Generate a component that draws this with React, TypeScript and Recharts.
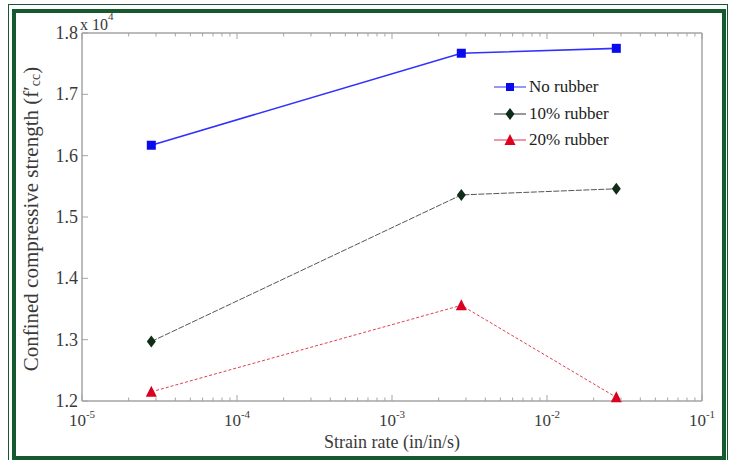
import { LineChart, Line, XAxis, YAxis } from 'recharts';

// strain rate (in/in/s) for the three tests
const strainRates = [2.8e-5, 2.8e-3, 2.8e-2];

// confined compressive strength f'cc (psi)
const noRubber = [16170, 17670, 17750];
const rubber10 = [12970, 15360, 15460];
const rubber20 = [12150, 13560, 12060];

const xMajorTicks = [1e-5, 1e-4, 1e-3, 1e-2, 1e-1];
const xMinorFactors = [2, 3, 4, 5, 6, 7, 8, 9];
const yTicks = [12000, 13000, 14000, 15000, 16000, 17000, 18000];

const FONT = '"Liberation Serif", "DejaVu Serif", serif';
const AXIS_GREY = '#a4a4a4';
const TEXT = '#3a3a3a';
const FRAME = '#15592e';

const xTicks: number[] = [];
xMajorTicks.forEach((t, i) => {
  xTicks.push(t);
  if (i < xMajorTicks.length - 1) xMinorFactors.forEach(f => xTicks.push(t * f));
});

const chartData = strainRates.map((rate, i) => ({
  rate,
  noRubber: noRubber[i],
  rubber10: rubber10[i],
  rubber20: rubber20[i],
}));

const isMajor = (v: number) => Math.abs(Math.log10(v) - Math.round(Math.log10(v))) < 1e-6;

const BottomTick = ({ x, y, payload }: any) => {
  const v = payload.value;
  const major = isMajor(v);
  return (
    <g>
      <line x1={x} y1={y} x2={x} y2={y - (major ? 6 : 3.5)} stroke={AXIS_GREY} strokeWidth={1} />
      {major && (
        <text x={x} y={y + 25} textAnchor="middle" fontFamily={FONT} fontSize={17} fill={TEXT}>
          <tspan>10</tspan>
          <tspan dy={-8} fontSize={11}>{Math.round(Math.log10(v))}</tspan>
        </text>
      )}
    </g>
  );
};

const TopTick = ({ x, y, payload }: any) => {
  const major = isMajor(payload.value);
  return <line x1={x} y1={y} x2={x} y2={y + (major ? 6 : 3.5)} stroke={AXIS_GREY} strokeWidth={1} />;
};

const LeftTick = ({ x, y, payload }: any) => (
  <g>
    <line x1={x} y1={y} x2={x + 6} y2={y} stroke={AXIS_GREY} strokeWidth={1} />
    <text x={x - 4} y={y} dy={6} textAnchor="end" fontFamily={FONT} fontSize={18} fill={TEXT}>
      {(payload.value / 10000).toFixed(1)}
    </text>
  </g>
);

const RightTick = ({ x, y }: any) => (
  <line x1={x} y1={y} x2={x - 6} y2={y} stroke={AXIS_GREY} strokeWidth={1} />
);

// markers
const Square = ({ cx, cy, size = 9 }: any) => (
  <rect x={cx - size / 2} y={cy - size / 2} width={size} height={size} fill="#0a0aee" />
);
const Diamond = ({ cx, cy }: any) => (
  <polygon points={`${cx},${cy - 6} ${cx + 4.5},${cy} ${cx},${cy + 6} ${cx - 4.5},${cy}`} fill="#0e2c16" />
);
const Triangle = ({ cx, cy }: any) => (
  <polygon points={`${cx},${cy - 6} ${cx + 5.5},${cy + 5} ${cx - 5.5},${cy + 5}`} fill="#dc0020" />
);

const legendItems = [
  { name: 'No rubber', color: '#2a2aff', Marker: Square },
  { name: '10% rubber', color: '#333333', Marker: Diamond },
  { name: '20% rubber', color: '#e03048', Marker: Triangle },
];

const LegendBox = () => (
  <div style={{ position: 'absolute', left: 494, top: 74, fontFamily: FONT, fontSize: 17, color: '#222' }}>
    {legendItems.map(item => (
      <div key={item.name} style={{ display: 'flex', alignItems: 'center', height: 26.5 }}>
        <svg width={34} height={16} style={{ marginRight: 1 }}>
          <line x1={0} y1={8} x2={32} y2={8} stroke={item.color} strokeWidth={1} />
          <item.Marker cx={16} cy={8} size={8} />
        </svg>
        <span>{item.name}</span>
      </div>
    ))}
  </div>
);

const YTitle = () => (
  <text
    x={31}
    y={219}
    transform="rotate(-90 31 219)"
    textAnchor="middle"
    dominantBaseline="central"
    fontFamily={FONT}
    fontSize={21}
    fill={TEXT}
  >
    Confined compressive strength (f′
    <tspan dy={4} fontSize={14}>cc</tspan>
    <tspan dy={-4}>)</tspan>
  </text>
);

const XTitle = () => (
  <g>
    <text x={392} y={448} textAnchor="middle" fontFamily={FONT} fontSize={18} fill={TEXT}>
      Strain rate (in/in/s)
    </text>
    <text x={80} y={30} fontFamily={FONT} fontSize={16} fill={TEXT}>
      x 10
      <tspan dy={-10} fontSize={11}>4</tspan>
    </text>
  </g>
);

export default function App() {
  return (
    <div style={{ position: 'absolute', left: 0, top: 0, width: 729, height: 460, background: '#fff', overflow: 'hidden' }}>
      <div style={{ position: 'absolute', left: 8, top: 4, width: 720, height: 470, border: `1px solid ${FRAME}`, boxSizing: 'border-box' }} />
      <div style={{ position: 'absolute', left: 12, top: 9, width: 714, height: 451, border: `4px solid ${FRAME}`, boxSizing: 'border-box' }} />
      <div style={{ position: 'absolute', left: 0, top: 0 }}>
        <LineChart width={729} height={460} data={chartData} margin={{ top: 32, right: 26, bottom: 58, left: 81 }}>
          <XAxis
            dataKey="rate"
            type="number"
            scale="log"
            domain={[1e-5, 1e-1]}
            allowDataOverflow
            ticks={xTicks}
            interval={0}
            height={1}
            tickSize={0}
            tickMargin={0}
            tick={<BottomTick />}
            axisLine={{ stroke: AXIS_GREY, strokeWidth: 1.5 }}
            label={<XTitle />}
          />
          <XAxis
            xAxisId="top"
            orientation="top"
            dataKey="rate"
            type="number"
            scale="log"
            domain={[1e-5, 1e-1]}
            allowDataOverflow
            ticks={xTicks}
            interval={0}
            height={1}
            tickSize={0}
            tickMargin={0}
            tick={<TopTick />}
            axisLine={{ stroke: AXIS_GREY, strokeWidth: 1.5 }}
          />
          <YAxis
            type="number"
            domain={[12000, 18000]}
            ticks={yTicks}
            interval={0}
            width={1}
            tickSize={0}
            tickMargin={0}
            tick={<LeftTick />}
            axisLine={{ stroke: AXIS_GREY, strokeWidth: 1.5 }}
            label={<YTitle />}
          />
          <YAxis
            yAxisId="right"
            orientation="right"
            type="number"
            domain={[12000, 18000]}
            ticks={yTicks}
            interval={0}
            width={1}
            tickSize={0}
            tickMargin={0}
            tick={<RightTick />}
            axisLine={{ stroke: AXIS_GREY, strokeWidth: 1.5 }}
          />
          <Line
            dataKey="noRubber"
            name="No rubber"
            stroke="#3030ff"
            strokeWidth={1.6}
            dot={<Square />}
            isAnimationActive={false}
          />
          <Line
            dataKey="rubber10"
            name="10% rubber"
            stroke="#555555"
            strokeWidth={1}
            strokeDasharray="6 1.5"
            dot={<Diamond />}
            isAnimationActive={false}
          />
          <Line
            dataKey="rubber20"
            name="20% rubber"
            stroke="#e04050"
            strokeWidth={1}
            strokeDasharray="3 2"
            dot={<Triangle />}
            isAnimationActive={false}
          />
        </LineChart>
      </div>
      <LegendBox />
    </div>
  );
}
